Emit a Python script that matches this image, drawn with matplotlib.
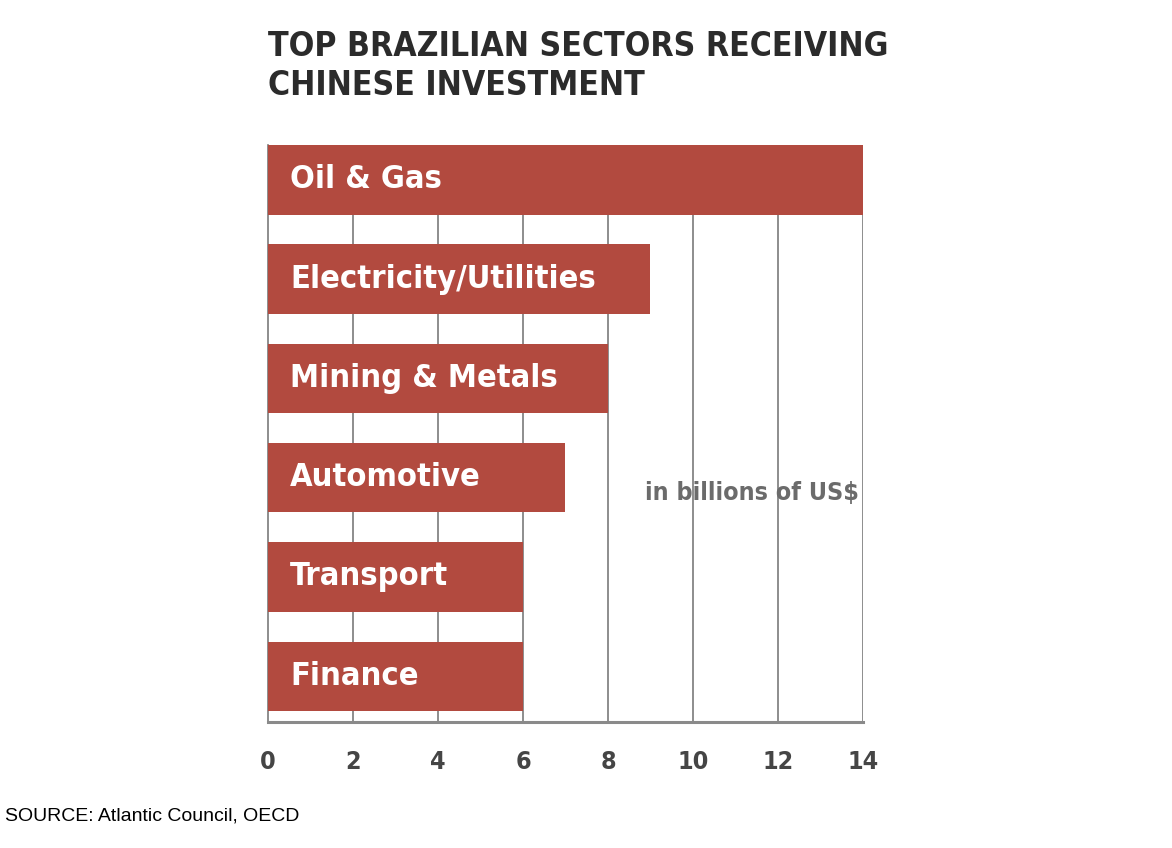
import matplotlib
matplotlib.use('Agg')
import matplotlib.pyplot as plt
from matplotlib import font_manager

sectors = ['Oil & Gas', 'Electricity/Utilities', 'Mining & Metals',
           'Automotive', 'Transport', 'Finance']
investment_bn = [14, 9, 8, 7, 6, 6]
x_ticks = [0, 2, 4, 6, 8, 10, 12, 14]

bar_color = '#b24a3f'
grid_color = '#7a7a7a'

# condensed bold face if we have one
names = {f.name for f in font_manager.fontManager.ttflist}
cond = 'DejaVu Sans' 
stretch = 'condensed'
if 'Liberation Sans Narrow' in names:
    cond = 'Liberation Sans Narrow'
    stretch = 'normal'

fig = plt.figure(figsize=(11.72, 8.48), dpi=100)
ax = fig.add_axes([0.2287, 0.1486, 0.7363 - 0.2287, 0.829 - 0.1486])

y = list(range(len(sectors)))
ax.barh(y, investment_bn, height=0.70, color=bar_color, zorder=3)

for i, (name, v) in enumerate(zip(sectors, investment_bn)):
    ax.text(0.52, i, name, color='white', fontsize=23.4, fontweight='bold',
            family=cond, stretch=stretch, va='center', ha='left', zorder=4)

ax.set_xlim(0, 14)
ax.set_ylim(5.46, -0.35)
ax.set_xticks(x_ticks)
ax.set_xticklabels([str(t) for t in x_ticks], fontsize=18, fontweight='bold',
                   family=cond, stretch=stretch, color='#454545')
ax.set_yticks([])
ax.tick_params(axis='x', length=0, pad=20)

for t in x_ticks[1:]:
    ax.axvline(t, color=grid_color, lw=1.2, zorder=1)

for s in ['top', 'right']:
    ax.spines[s].set_visible(False)
ax.spines['left'].set_color(grid_color)
ax.spines['left'].set_linewidth(1.2)
ax.spines['bottom'].set_color('#8a8a8a')
ax.spines['bottom'].set_linewidth(2.2)

ax.text(13.9, 3.15, 'in billions of US$', color='#6b6b6b', fontsize=18,
        fontweight='bold', family=cond, stretch=stretch, ha='right', va='center', zorder=4)

fig.text(268 / 1172, 1 - 66 / 848, 'TOP BRAZILIAN SECTORS RECEIVING\nCHINESE INVESTMENT',
         color='#2b2b2b', fontsize=24.2, fontweight='bold', family=cond, stretch=stretch,
         ha='left', va='center', linespacing=1.2)
fig.text(5 / 1172, 1 - 816 / 848, 'SOURCE: Atlantic Council, OECD', color='black',
         fontsize=14, family='Liberation Sans', ha='left', va='center')

fig.savefig('out.png', dpi=100)
